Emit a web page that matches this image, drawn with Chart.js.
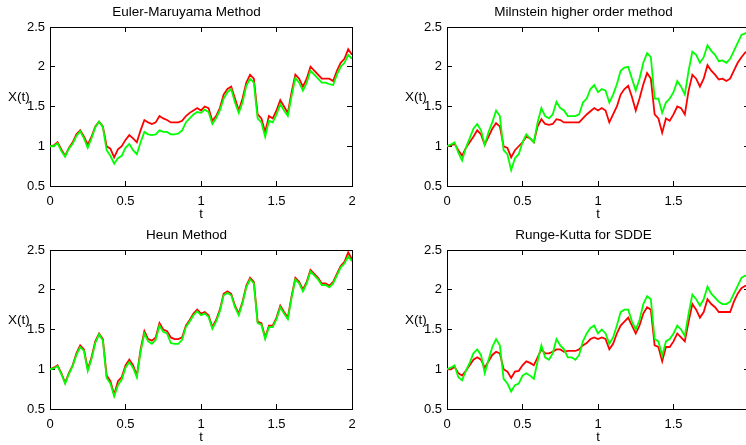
<!DOCTYPE html>
<html>
<head>
<meta charset="utf-8">
<script src="https://cdn.jsdelivr.net/npm/chart.js@4"></script>
<style>
  html, body { margin: 0; padding: 0; background: #fff; overflow: hidden; width: 746px; height: 445px; }
  .panel { position: absolute; width: 373px; height: 222px; }
</style>
</head>
<body>
<div class="panel" style="left:0;top:0"><canvas id="em"></canvas></div>
<div class="panel" style="left:397px;top:0"><canvas id="mil"></canvas></div>
<div class="panel" style="left:0;top:223px"><canvas id="heun"></canvas></div>
<div class="panel" style="left:397px;top:223px"><canvas id="rk"></canvas></div>
<script>
// time grid (read every 0.025)
const t = [0,0.025,0.05,0.075,0.1,0.125,0.15,0.175,0.2,0.225,
  0.25,0.275,0.3,0.325,0.35,0.375,0.4,0.425,0.45,0.475,
  0.5,0.525,0.55,0.575,0.6,0.625,0.65,0.675,0.7,0.725,
  0.75,0.775,0.8,0.825,0.85,0.875,0.9,0.925,0.95,0.975,
  1,1.025,1.05,1.075,1.1,1.125,1.15,1.175,1.2,1.225,
  1.25,1.275,1.3,1.325,1.35,1.375,1.4,1.425,1.45,1.475,
  1.5,1.525,1.55,1.575,1.6,1.625,1.65,1.675,1.7,1.725,
  1.75,1.775,1.8,1.825,1.85,1.875,1.9,1.925,1.95,1.975,2];

const xTicks = [0, 0.5, 1, 1.5, 2];
const yTicks = [0.5, 1, 1.5, 2, 2.5];

// Euler-Maruyama
const emRed = [1.00,1.01,1.05,0.96,0.88,0.98,1.05,1.15,1.20,1.12,
  1.02,1.12,1.25,1.31,1.25,1.00,0.97,0.86,0.96,1.00,
  1.08,1.14,1.10,1.05,1.20,1.33,1.30,1.28,1.30,1.38,
  1.35,1.33,1.30,1.30,1.30,1.32,1.38,1.42,1.45,1.48,
  1.45,1.50,1.48,1.32,1.38,1.48,1.65,1.72,1.75,1.60,
  1.45,1.60,1.80,1.90,1.85,1.40,1.35,1.18,1.38,1.35,
  1.45,1.58,1.50,1.42,1.68,1.90,1.85,1.75,1.85,2.00,
  1.95,1.90,1.85,1.85,1.85,1.82,1.95,2.05,2.10,2.22,2.15];
const emGreen = [1.00,1.00,1.04,0.94,0.87,0.97,1.03,1.13,1.19,1.10,
  0.98,1.10,1.24,1.31,1.24,0.95,0.88,0.78,0.85,0.88,
  0.98,1.03,0.95,0.90,1.05,1.18,1.15,1.14,1.15,1.20,
  1.18,1.18,1.15,1.15,1.16,1.20,1.30,1.35,1.40,1.43,
  1.42,1.46,1.43,1.28,1.35,1.45,1.60,1.68,1.72,1.55,
  1.42,1.55,1.76,1.85,1.80,1.35,1.30,1.12,1.32,1.30,
  1.40,1.53,1.45,1.38,1.63,1.86,1.80,1.70,1.80,1.95,
  1.90,1.85,1.80,1.80,1.78,1.77,1.90,2.00,2.05,2.15,2.10];

// Milstein
const milRed = [1.00,1.01,1.03,0.95,0.88,0.98,1.05,1.12,1.20,1.15,
  1.02,1.12,1.22,1.29,1.25,1.00,0.98,0.86,0.95,1.00,
  1.05,1.12,1.10,1.05,1.25,1.34,1.28,1.27,1.28,1.34,
  1.33,1.30,1.30,1.30,1.30,1.30,1.35,1.40,1.44,1.48,
  1.45,1.48,1.45,1.30,1.40,1.50,1.65,1.72,1.76,1.62,
  1.45,1.60,1.78,1.92,1.85,1.40,1.35,1.17,1.35,1.32,
  1.40,1.50,1.48,1.40,1.70,1.90,1.85,1.75,1.85,2.02,
  1.95,1.90,1.84,1.85,1.82,1.85,1.95,2.05,2.12,2.18,2.20];
const milGreen = [1.00,1.02,1.05,0.92,0.82,0.98,1.10,1.22,1.28,1.20,
  1.02,1.18,1.30,1.45,1.38,0.95,0.90,0.70,0.85,0.90,
  1.05,1.15,1.10,1.05,1.30,1.48,1.38,1.35,1.40,1.56,
  1.48,1.45,1.38,1.38,1.38,1.40,1.55,1.60,1.72,1.77,
  1.68,1.72,1.70,1.55,1.65,1.78,1.95,1.99,2.00,1.85,
  1.70,1.85,2.05,2.17,2.12,1.60,1.60,1.42,1.55,1.60,
  1.68,1.82,1.75,1.65,1.95,2.19,2.15,2.05,2.12,2.27,
  2.20,2.15,2.07,2.08,2.05,2.10,2.20,2.30,2.40,2.42,2.44];

// Heun
const heunRed = [1.00,1.02,1.05,0.95,0.83,0.95,1.05,1.20,1.30,1.25,
  1.00,1.15,1.35,1.45,1.38,0.92,0.85,0.68,0.85,0.90,
  1.05,1.12,1.05,0.92,1.25,1.48,1.38,1.36,1.40,1.58,
  1.50,1.48,1.40,1.38,1.38,1.40,1.55,1.62,1.70,1.75,
  1.70,1.72,1.68,1.53,1.62,1.75,1.95,1.98,1.95,1.80,
  1.70,1.85,2.05,2.15,2.10,1.60,1.58,1.40,1.55,1.55,
  1.65,1.80,1.72,1.65,1.92,2.15,2.10,2.00,2.10,2.25,
  2.20,2.15,2.08,2.08,2.05,2.10,2.20,2.30,2.35,2.47,2.38];
const heunGreen = [1.00,1.01,1.04,0.94,0.82,0.94,1.04,1.18,1.28,1.23,
  0.98,1.13,1.33,1.44,1.36,0.89,0.82,0.66,0.80,0.87,
  1.02,1.09,1.02,0.90,1.22,1.45,1.35,1.32,1.37,1.55,
  1.47,1.45,1.33,1.32,1.32,1.37,1.53,1.60,1.68,1.73,
  1.68,1.70,1.66,1.51,1.60,1.73,1.93,1.96,1.93,1.78,
  1.68,1.83,2.03,2.13,2.08,1.58,1.56,1.38,1.53,1.53,
  1.63,1.78,1.70,1.63,1.90,2.13,2.08,1.98,2.08,2.23,
  2.18,2.13,2.06,2.06,2.03,2.08,2.18,2.28,2.33,2.42,2.36];

// Runge-Kutta for SDDE
const rkRed = [1.00,1.00,1.03,0.95,0.92,0.98,1.05,1.12,1.15,1.12,
  1.02,1.10,1.18,1.22,1.20,1.00,0.97,0.89,0.97,0.98,
  1.05,1.10,1.08,1.05,1.15,1.25,1.20,1.20,1.22,1.25,
  1.25,1.22,1.23,1.23,1.23,1.25,1.30,1.33,1.38,1.40,
  1.38,1.40,1.38,1.25,1.32,1.45,1.55,1.60,1.65,1.55,
  1.45,1.55,1.70,1.78,1.75,1.30,1.28,1.10,1.28,1.28,
  1.35,1.45,1.40,1.35,1.60,1.82,1.75,1.65,1.72,1.88,
  1.82,1.78,1.72,1.72,1.72,1.72,1.85,1.95,2.02,2.05,2.05];
const rkGreen = [1.00,1.02,1.05,0.90,0.86,0.98,1.08,1.20,1.25,1.18,
  0.95,1.12,1.28,1.38,1.30,0.88,0.82,0.72,0.80,0.82,
  0.92,0.95,0.92,0.88,1.10,1.30,1.15,1.12,1.20,1.38,
  1.30,1.25,1.15,1.15,1.12,1.18,1.35,1.45,1.52,1.55,
  1.45,1.50,1.45,1.32,1.40,1.55,1.72,1.75,1.75,1.60,
  1.50,1.62,1.82,1.92,1.88,1.38,1.35,1.17,1.35,1.38,
  1.45,1.55,1.50,1.42,1.70,1.94,1.88,1.80,1.88,2.04,
  1.95,1.90,1.85,1.82,1.82,1.85,1.95,2.05,2.15,2.18,2.15];

Chart.defaults.font.family = '"Liberation Sans", Arial, sans-serif';
Chart.defaults.font.size = 13;
Chart.defaults.color = '#000';

// MATLAB puts the ylabel horizontal, left of the ticks
const yLabel = {
  id: 'yLabel',
  afterDraw(chart) {
    const a = chart.chartArea, ctx = chart.ctx;
    ctx.save();
    ctx.font = '13.5px "Liberation Sans", Arial, sans-serif';
    ctx.fillStyle = '#000';
    ctx.textAlign = 'left';
    ctx.textBaseline = 'middle';
    ctx.fillText('X(t)', a.left - 42, (a.top + a.bottom) / 2 - 9);
    ctx.restore();
  }
};

const setTicks = vals => s => { s.ticks = vals.map(v => ({ value: v })); };
const fix = (prop, v) => s => { s[prop] = v; };
const pts = arr => arr.map((v, i) => ({ x: t[i], y: v }));

function axis(pos, vals, min, max, size, showLabels) {
  const horiz = pos === 'top' || pos === 'bottom';
  return {
    type: 'linear', position: pos, min: min, max: max,
    afterBuildTicks: setTicks(vals),
    afterFit: fix(horiz ? 'height' : 'width', size),
    grid: { drawOnChartArea: false, tickLength: -5, color: '#000' },
    border: { color: '#000', width: 1 },
    ticks: { display: showLabels, padding: horiz ? 13 : 10, maxRotation: 0, callback: v => String(+v) }
  };
}

function makePlot(id, title, red, green) {
  const xs = axis('bottom', xTicks, 0, 2, 36, true);
  xs.title = { display: true, text: 't', padding: 0 };
  new Chart(document.getElementById(id), {
    type: 'line',
    data: {
      datasets: [
        { data: pts(green), borderColor: '#00ff00', order: 0 },
        { data: pts(red), borderColor: '#ff0000', order: 1 }
      ]
    },
    options: {
      responsive: true,
      maintainAspectRatio: false,
      animation: false,
      layout: { padding: 0 },
      elements: { point: { radius: 0 }, line: { borderWidth: 1.8, tension: 0 } },
      plugins: {
        legend: { display: false },
        tooltip: { enabled: false },
        title: { display: true, text: title, font: { size: 13.5, weight: 'normal' }, padding: { top: 4, bottom: 6.8 } }
      },
      scales: {
        x: xs,
        x2: axis('top', xTicks, 0, 2, 0, false),
        y: axis('left', yTicks, 0.5, 2.5, 50, true),
        y2: axis('right', yTicks, 0.5, 2.5, 21, false)
      }
    },
    plugins: [yLabel]
  });
}

makePlot('em', 'Euler-Maruyama Method', emRed, emGreen);
makePlot('mil', 'Milnstein higher order method', milRed, milGreen);
makePlot('heun', 'Heun Method', heunRed, heunGreen);
makePlot('rk', 'Runge-Kutta for SDDE', rkRed, rkGreen);
</script>
</body>
</html>
